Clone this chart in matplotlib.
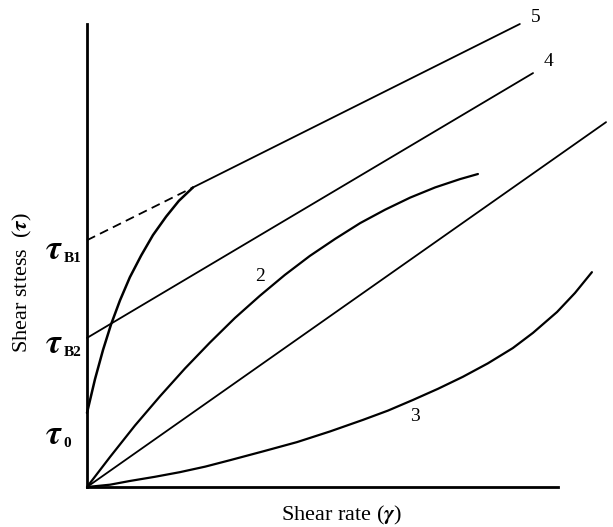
import matplotlib
matplotlib.use("Agg")
import matplotlib.pyplot as plt

plt.rcParams['font.family'] = ['Liberation Serif', 'DejaVu Serif']
plt.rcParams['mathtext.fontset'] = 'stix'

# Data (arbitrary units: shear rate x, shear stress y)
line5_x = [0.0, 2.25, 9.19]          # dashed up to 2.25, solid after
line5_y = [5.33, 6.47, 10.0]
line4_x = [0.0, 9.47]
line4_y = [3.22, 8.94]
newton_x = [0.0, 11.02]
newton_y = [0.0, 7.88]
curve1_x = [0.0, 0.17, 0.34, 0.51, 0.70, 0.91, 1.15, 1.40, 1.68, 1.95, 2.25]
curve1_y = [1.60, 2.33, 2.96, 3.51, 4.03, 4.53, 5.00, 5.44, 5.84, 6.18, 6.47]
curve2_x = [0.0, 0.49, 1.02, 1.55, 2.08, 2.61, 3.14, 3.67, 4.20, 4.73, 5.27,
            5.80, 6.33, 6.86, 7.39, 7.92, 8.30]
curve2_y = [0.0, 0.65, 1.33, 1.96, 2.56, 3.12, 3.65, 4.13, 4.58, 4.99, 5.36,
            5.70, 5.99, 6.25, 6.47, 6.65, 6.76]
curve3_x = [0.0, 0.49, 0.91, 1.44, 1.97, 2.51, 3.04, 3.74, 4.46, 5.16, 5.86,
            6.39, 6.92, 7.45, 7.98, 8.51, 9.04, 9.47, 9.98, 10.36, 10.72]
curve3_y = [0.0, 0.05, 0.13, 0.22, 0.32, 0.44, 0.58, 0.77, 0.97, 1.20, 1.45,
            1.65, 1.88, 2.12, 2.38, 2.67, 3.00, 3.33, 3.78, 4.19, 4.64]

num_labels = ['5', '4', '2', '3']
num_x = [9.53, 9.79, 3.67, 6.96]
num_y = [10.15, 9.18, 4.54, 1.53]

tau_subs = ['B1', 'B2', '0']
tau_y = [5.05, 3.02, 1.06]

fig = plt.figure(figsize=(6.13, 5.27), dpi=100)
ax = fig.add_axes([87/613, 40/527, 471/613, 463/527])
ax.set_xlim(0, 10)
ax.set_ylim(0, 10)
for s in ['top', 'right']:
    ax.spines[s].set_visible(False)
for s in ['left', 'bottom']:
    ax.spines[s].set_linewidth(2.0)
ax.set_xticks([])
ax.set_yticks([])

kw = dict(color='black', clip_on=False, solid_joinstyle='round', solid_capstyle='round')
ax.plot(line5_x[:2], line5_y[:2], color='black', lw=1.3, ls=(0, (5, 3)), clip_on=False)
ax.plot(line5_x[1:], line5_y[1:], lw=1.3, **kw)
ax.plot(line4_x, line4_y, lw=1.3, **kw)
ax.plot(newton_x, newton_y, lw=1.3, **kw)
ax.plot(curve1_x, curve1_y, lw=1.8, **kw)
ax.plot(curve2_x, curve2_y, lw=1.6, **kw)
ax.plot(curve3_x, curve3_y, lw=1.6, **kw)

for t, x, y in zip(num_labels, num_x, num_y):
    ax.text(x, y, t, fontsize=14, ha='center', va='center', clip_on=False)

for sub, y in zip(tau_subs, tau_y):
    ax.text(-0.70, y + 0.05, r'$\boldsymbol{\tau}$', fontsize=25, ha='center', va='center')
    ax.text(-0.50, y - 0.12, sub, fontsize=11, fontweight='bold', ha='left', va='center')

fig.text(341/613, 1 - 515/527, r'Shear rate ($\boldsymbol{\gamma}$)', fontsize=16,
         ha='center', va='center')
fig.text(22/613, 1 - 283/527, r'Shear sttess  ($\boldsymbol{\tau}$)', fontsize=16,
         ha='center', va='center', rotation=90)

fig.savefig('out.png', dpi=100)
